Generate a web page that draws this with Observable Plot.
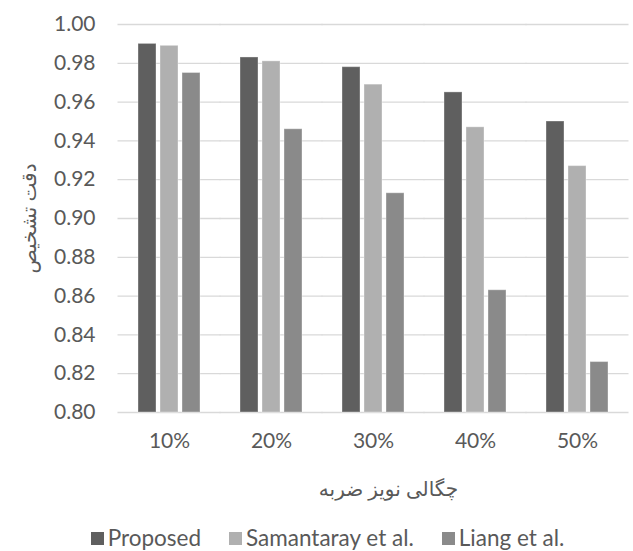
<!DOCTYPE html>
<html>
<head>
<meta charset="utf-8">
<script src="https://cdn.jsdelivr.net/npm/d3@7"></script>
<script src="https://cdn.jsdelivr.net/npm/@observablehq/plot@0.6"></script>
<style>
  html, body { margin: 0; padding: 0; background: #fff; }
  body { width: 633px; height: 551px; overflow: hidden; font-family: Lato, "DejaVu Sans", sans-serif; }
  #legend { display: flex; justify-content: center; align-items: center; margin-top: 21px; margin-left: 22px;
            font-size: 22.5px; color: #595959; line-height: 24px; }
  #legend .item { display: flex; align-items: center; gap: 4px; margin: 0 14px; }
  #legend .sw { width: 13px; height: 13px; display: inline-block; }
  g[aria-label="y-axis label"] text { font-size: 20px; }
</style>
</head>
<body>
<div id="chart"></div>
<div id="legend"></div>
<script>
const groups = ["10%", "20%", "30%", "40%", "50%"];
const seriesNames = ["Proposed", "Samantaray et al.", "Liang et al."];
const proposed   = [0.990, 0.983, 0.978, 0.965, 0.950];
const samantaray = [0.989, 0.981, 0.969, 0.947, 0.927];
const liang      = [0.975, 0.946, 0.913, 0.863, 0.826];
const colors = ["#5f5f5f", "#b0b0b0", "#8a8a8a"];
const yTicks = [0.80, 0.82, 0.84, 0.86, 0.88, 0.90, 0.92, 0.94, 0.96, 0.98, 1.00];
const yLabel = "دقت تشخیص";
const xLabel = "چگالی نویز ضربه";

const seriesValues = [proposed, samantaray, liang];
const data = [];
groups.forEach((g, i) => seriesNames.forEach((s, j) => data.push({group: g, series: s, value: seriesValues[j][i]})));

const plot = Plot.plot({
  width: 633,
  height: 505,
  marginLeft: 118,
  marginRight: 5,
  marginTop: 24,
  marginBottom: 93,
  style: {fontFamily: 'Lato, "DejaVu Sans", sans-serif', fontSize: "21px", color: "#595959", background: "white", overflow: "visible"},
  y: {domain: [0.8, 1.0], ticks: yTicks, tickFormat: d3.format(".2f"), tickSize: 0, tickPadding: 42,
      label: yLabel, labelAnchor: "center", labelOffset: 116, labelArrow: "none"},
  fx: {domain: groups, paddingInner: 0.3725, paddingOuter: 0.186, tickSize: 0, tickPadding: 21,
       label: null},
  x: {domain: seriesNames, axis: null, paddingInner: 0.2, paddingOuter: 0},
  color: {domain: seriesNames, range: colors},
  marks: [
    Plot.ruleY(yTicks, {stroke: "#d9d9d9", strokeWidth: 1.3, insetLeft: -19.5, insetRight: -19.5}),
    Plot.barY(data, {fx: "group", x: "series", y1: 0.8, y2: "value", fill: "series", stroke: "#ffffff", strokeOpacity: 0.35, strokeWidth: 1}),
    Plot.text([xLabel], {text: d => d, facet: "super", frameAnchor: "bottom", lineAnchor: "middle", dy: 77, dx: 15, fontSize: 20, fill: "#595959"})
  ]
});
document.getElementById("chart").appendChild(plot);

const legend = document.getElementById("legend");
seriesNames.forEach((s, j) => {
  const item = document.createElement("div");
  item.className = "item";
  const sw = document.createElement("span");
  sw.className = "sw";
  sw.style.background = colors[j];
  const t = document.createElement("span");
  t.textContent = s;
  item.appendChild(sw); item.appendChild(t);
  legend.appendChild(item);
});
</script>
</body>
</html>
